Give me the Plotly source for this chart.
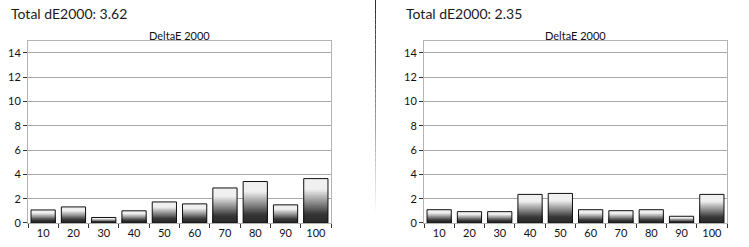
import plotly.graph_objects as go

W, H = 749, 247

categories = ["10", "20", "30", "40", "50", "60", "70", "80", "90", "100"]
left_values = [1.07, 1.32, 0.45, 1.0, 1.73, 1.57, 2.88, 3.41, 1.49, 3.65]
right_values = [1.09, 0.93, 0.93, 2.35, 2.43, 1.09, 1.01, 1.09, 0.55, 2.35]
left_title = "Total dE2000: 3.62"
right_title = "Total dE2000: 2.35"
chart_title = "DeltaE 2000"
y_ticks = [0, 2, 4, 6, 8, 10, 12, 14]

FONT = "Lato"
N_SEG = 30


def gray_at(f):
    # dark bottom, light top
    lo, hi = 0.16, 0.94
    if f < 0.2:
        g = lo + (f / 0.2) * 0.05
    elif f < 0.76:
        t = (f - 0.2) / 0.56
        g = lo + 0.05 + t * (hi - lo - 0.05)
    else:
        g = hi
    c = int(round(g * 255))
    return f"rgb({c},{c},{c})"


fig = go.Figure()


def add_bars(values, xa, ya):
    # draw from tallest (lightest top) to shortest (darkest), each from base 0
    for k in range(N_SEG):
        frac_top = (N_SEG - k) / N_SEG
        f = (N_SEG - k - 0.5) / N_SEG
        fig.add_trace(go.Bar(
            x=categories,
            y=[v * frac_top for v in values],
            marker=dict(color=gray_at(f), line=dict(width=0)),
            xaxis=xa, yaxis=ya, showlegend=False, hoverinfo="skip",
        ))
    fig.add_trace(go.Bar(
        x=categories, y=values,
        marker=dict(color="rgba(0,0,0,0)", line=dict(color="#111", width=1)),
        xaxis=xa, yaxis=ya, showlegend=False,
    ))


add_bars(left_values, "x", "y")
add_bars(right_values, "x2", "y2")

ydom = [1 - 228.5 / H, 1 - 41.7 / H]
xdom1 = [28 / W, 331 / W]
xdom2 = [424 / W, 727 / W]

axis_common = dict(
    showline=True, linecolor="#b4b4b4", linewidth=1, mirror=True,
    ticks="outside", tickcolor="#333", ticklen=4, tickwidth=1,
    tickfont=dict(family=FONT, size=11, color="#111"),
)

fig.update_layout(
    width=W, height=H,
    margin=dict(l=0, r=0, t=0, b=0),
    paper_bgcolor="white", plot_bgcolor="white",
    barmode="overlay", bargap=0.2,
    xaxis=dict(domain=xdom1, anchor="y", type="category", tickson="boundaries",
               showgrid=False, **axis_common),
    yaxis=dict(domain=ydom, anchor="x", range=[0, 15], tickvals=y_ticks,
               showgrid=True, gridcolor="#a8a8a8", gridwidth=1, zeroline=False,
               **axis_common),
    xaxis2=dict(domain=xdom2, anchor="y2", type="category", tickson="boundaries",
                showgrid=False, **axis_common),
    yaxis2=dict(domain=ydom, anchor="x2", range=[0, 15], tickvals=y_ticks,
                showgrid=True, gridcolor="#a8a8a8", gridwidth=1, zeroline=False,
                **axis_common),
    font=dict(family=FONT),
)

annotations = [
    dict(text=left_title, x=9 / W, y=1 - 14 / H, xanchor="left", yanchor="middle",
         font=dict(family=FONT, size=14, color="#1a1a1a")),
    dict(text=right_title, x=404 / W, y=1 - 14 / H, xanchor="left", yanchor="middle",
         font=dict(family=FONT, size=14, color="#1a1a1a")),
    dict(text=chart_title, x=sum(xdom1) / 2, y=1 - 36 / H, xanchor="center", yanchor="middle",
         font=dict(family=FONT, size=11, color="#111")),
    dict(text=chart_title, x=sum(xdom2) / 2, y=1 - 36 / H, xanchor="center", yanchor="middle",
         font=dict(family=FONT, size=11, color="#111")),
]
for a in annotations:
    a.update(xref="paper", yref="paper", showarrow=False)
fig.update_layout(annotations=annotations)

# divider line with fade
shapes = []
n = 44
top, bottom = 0, 222
for i in range(n):
    y0 = top + (bottom - top) * i / n
    y1 = top + (bottom - top) * (i + 1) / n
    g = int(round(45 + (255 - 45) * (i / (n - 1)) ** 1.1))
    shapes.append(dict(type="line", xref="paper", yref="paper",
                       x0=375.5 / W, x1=375.5 / W, y0=1 - y0 / H, y1=1 - y1 / H,
                       line=dict(color=f"rgb({g},{g},{g})", width=1)))
fig.update_layout(shapes=shapes)

fig.write_html("out.html")
